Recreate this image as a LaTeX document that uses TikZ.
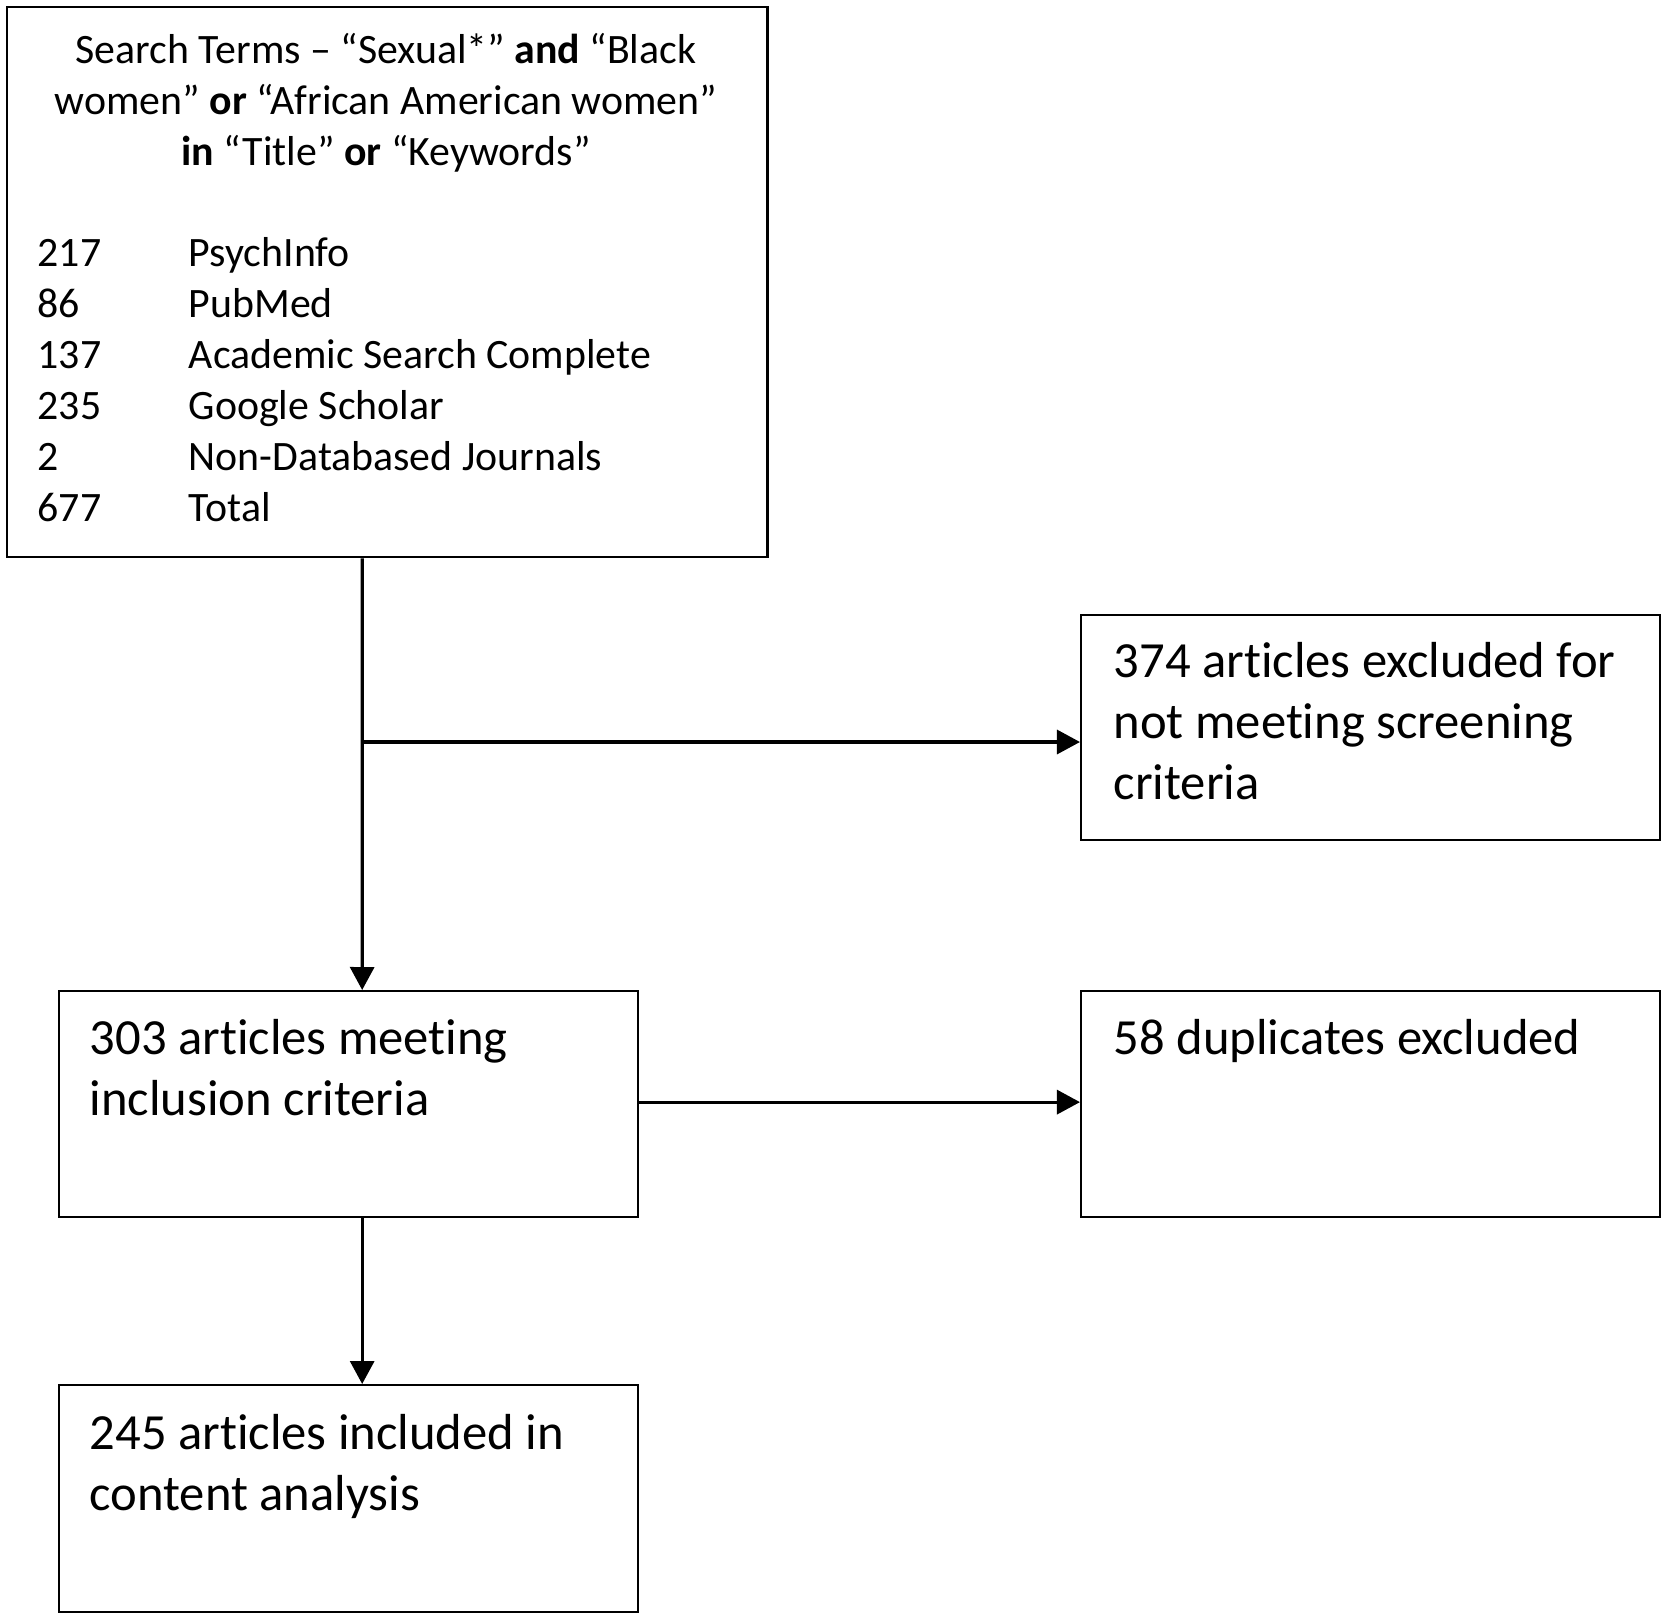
\documentclass[tikz,border=0pt]{standalone}
\usepackage{fontspec}
\setmainfont{Carlito}[Ligatures=NoCommon]
\usetikzlibrary{arrows.meta,positioning}

\tikzset{
  box/.style={draw, line width=0.6pt, inner sep=0pt, anchor=north west},
  smalltext/.style={font=\fontsize{11.9}{14.5}\selectfont, inner sep=0pt},
  bigtext/.style={font=\fontsize{14.4}{17.4}\selectfont, inner sep=0pt, align=left, anchor=north west},
  flow/.style={line width=0.9pt, -{Triangle[length=0.23cm,width=0.24cm]}}
}

\begin{document}
\begin{tikzpicture}[x=0.01cm,y=-0.01cm]
  \useasboundingbox (0,0) rectangle (1665,1617);

  % The boxes
  \node[box, minimum width=7.60cm, minimum height=5.50cm] (search) at (6,6) {};
  \node[box, minimum width=5.79cm, minimum height=2.25cm] (excl) at (1080,614) {};
  \node[box, minimum width=5.79cm, minimum height=2.26cm] (incl) at (58,990) {};
  \node[box, minimum width=5.79cm, minimum height=2.26cm] (dupl) at (1080,990) {};
  \node[box, minimum width=5.79cm, minimum height=2.27cm] (final) at (58,1384) {};

  % Search terms and sources
  \node[smalltext, align=center, anchor=north] (terms) at (386,27)
    {\strut Search Terms -- “Sexual*” \textbf{and} “Black\\
     women” \textbf{or} “African American women”\\
     \textbf{in} “Title” \textbf{or} “Keywords”};
  \node[smalltext, anchor=north west] (sources) at (37,230)
    {\begin{tabular}{@{}p{1.51cm}@{}l@{}}
      217 & PsychInfo\\
      86  & PubMed\\
      137 & Academic Search Complete\\
      235 & Google Scholar\\
      2   & Non-Databased Journals\\
      677 & Total
    \end{tabular}};

  % Counts
  \node[bigtext] (excltext) at (1113,634)
    {\strut 374 articles excluded for\\not meeting screening\\criteria};
  \node[bigtext] (incltext) at (89,1011)
    {\strut 303 articles meeting\\inclusion criteria};
  \node[bigtext] (dupltext) at (1113,1011)
    {\strut 58 duplicates excluded};
  \node[bigtext] (finaltext) at (89,1406)
    {\strut 245 articles included in\\content analysis};

  % Connectors
  \coordinate (split) at (362,742);
  \draw[flow] ([xshift=3.56cm]search.south west) -- ([xshift=3.04cm]incl.north west);
  \draw[flow] (split) -- (split -| excl.west);
  \draw[flow] ([yshift=0.02cm]incl.east) -- ([yshift=0.02cm]incl.east -| dupl.west);
  \draw[flow] ([xshift=3.04cm]incl.south west) -- ([xshift=3.04cm]final.north west);
\end{tikzpicture}
\end{document}
